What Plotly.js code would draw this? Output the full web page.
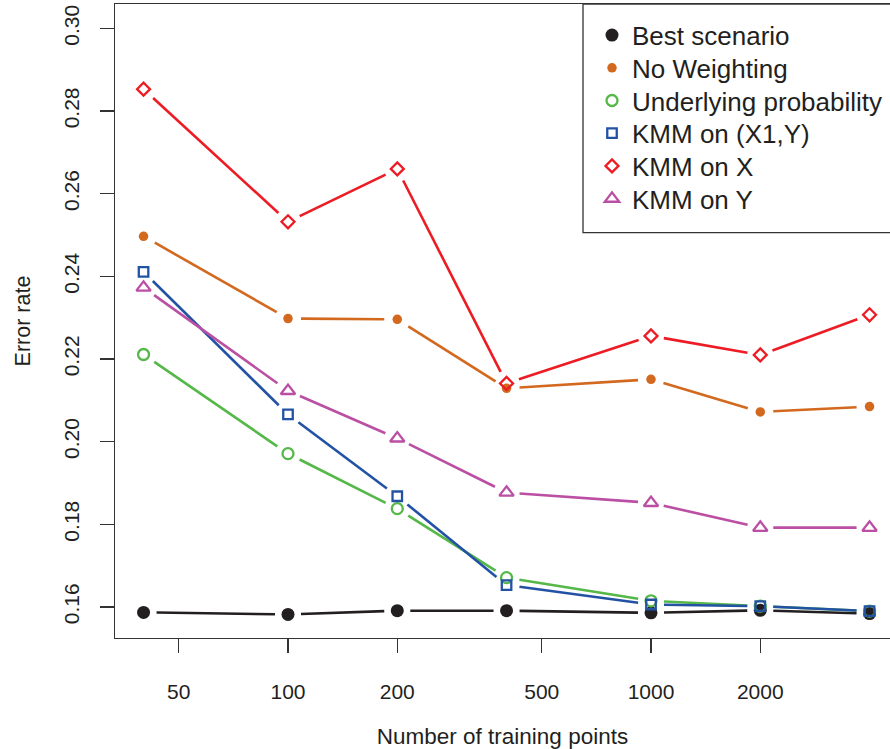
<!DOCTYPE html>
<html>
<head>
<meta charset="utf-8">
<script src="https://cdn.plot.ly/plotly-3.0.1.min.js"></script>
<style>html,body{margin:0;padding:0;background:#fff;}#chart{width:890px;height:749px;}</style>
</head>
<body>
<div id="chart"></div>
<script>
// ---- data ----
var trainingPoints = [40, 100, 200, 400, 1000, 2000, 4000];
var bestScenario   = [0.1587, 0.1582, 0.1591, 0.1591, 0.1586, 0.1592, 0.1584];
var noWeighting    = [0.2497, 0.2298, 0.2296, 0.2129, 0.2151, 0.2072, 0.2085];
var underlyingProb = [0.2211, 0.1971, 0.1838, 0.1671, 0.1615, 0.1602, 0.1590];
var kmmX1Y         = [0.2411, 0.2066, 0.1868, 0.1653, 0.1606, 0.1602, 0.1590];
var kmmX           = [0.2853, 0.2532, 0.2660, 0.2141, 0.2256, 0.2210, 0.2307];
var kmmY           = [0.2373, 0.2123, 0.2008, 0.1877, 0.1852, 0.1792, 0.1792];
var seriesNames    = ["Best scenario", "No Weighting", "Underlying probability", "KMM on (X1,Y)", "KMM on X", "KMM on Y"];
var xTickVals      = [50, 100, 200, 500, 1000, 2000];
var xTickText      = ["50", "100", "200", "500", "1000", "2000"];
var yTickVals      = [0.16, 0.18, 0.20, 0.22, 0.24, 0.26, 0.28, 0.30];
var yTickText      = ["0.16", "0.18", "0.20", "0.22", "0.24", "0.26", "0.28", "0.30"];

// ---- styling ----
var W = 890, H = 749;
var margin = {l: 115, r: 0, t: 4, b: 111};
var xRange = [1.5234, 3.6584];   // log10 units
var yRange = [0.1525, 0.3059];
var plotW = W - margin.l - margin.r, plotH = H - margin.t - margin.b;
var txt = "#231f20";
var font = "Liberation Sans, Arial, Helvetica, sans-serif";

var styles = [
  {color: "#231f20", symbol: "circle",        size: 13,  lw: 0},
  {color: "#d2691e", symbol: "circle",        size: 9.5, lw: 0},
  {color: "#55b848", symbol: "circle-open",   size: 11,  lw: 2.3},
  {color: "#2352a5", symbol: "square-open",   size: 9.5, lw: 2.3},
  {color: "#ed1c24", symbol: "diamond-open",  size: 10,  lw: 2.3},
  {color: "#ba4fa3", symbol: "triangle-up-open", size: 12.5, lw: 2.3}
];
var allSeries = [bestScenario, noWeighting, underlyingProb, kmmX1Y, kmmX, kmmY];

// R type="b": line segments stop short of the points (gap in pixels)
var GAP = 13;
function toPx(x, y) {
  return [(Math.log10(x) - xRange[0]) / (xRange[1] - xRange[0]) * plotW,
          (y - yRange[0]) / (yRange[1] - yRange[0]) * plotH];
}
function fromPx(px, py) {
  return [Math.pow(10, xRange[0] + px / plotW * (xRange[1] - xRange[0])),
          yRange[0] + py / plotH * (yRange[1] - yRange[0])];
}
function gappedSegments(xs, ys) {
  var gx = [], gy = [];
  for (var i = 0; i < xs.length - 1; i++) {
    var a = toPx(xs[i], ys[i]), b = toPx(xs[i + 1], ys[i + 1]);
    var dx = b[0] - a[0], dy = b[1] - a[1], d = Math.sqrt(dx * dx + dy * dy);
    if (d <= 2 * GAP) { gx.push(null); gy.push(null); continue; }
    var ux = dx / d, uy = dy / d;
    var p = fromPx(a[0] + ux * GAP, a[1] + uy * GAP);
    var q = fromPx(b[0] - ux * GAP, b[1] - uy * GAP);
    gx.push(p[0], q[0], null); gy.push(p[1], q[1], null);
  }
  return [gx, gy];
}

// legend: one legend per entry so the row spacing can match the reference
var legendFirstCenter = 36.7, legendStep = 32.7, legendCenterOffset = 25;
var legendLeft = 592;

var traces = [];
var layoutLegends = {};
allSeries.forEach(function (ys, k) {
  var st = styles[k];
  var seg = gappedSegments(trainingPoints, ys);
  var legId = k === 0 ? "legend" : "legend" + (k + 1);
  traces.push({
    x: seg[0], y: seg[1], type: "scatter", mode: "lines",
    line: {color: st.color, width: 2.6}, connectgaps: false,
    showlegend: false, hoverinfo: "skip"
  });
  traces.push({
    x: trainingPoints, y: ys, type: "scatter", mode: "markers",
    name: seriesNames[k], legend: legId,
    marker: {color: st.color, symbol: st.symbol, size: st.size,
             line: {color: st.color, width: st.lw}}
  });
  var topPx = legendFirstCenter + legendStep * k - legendCenterOffset;
  layoutLegends[legId] = {
    x: (legendLeft - margin.l) / plotW, xanchor: "left",
    y: 1 - (topPx - margin.t) / plotH, yanchor: "top",
    bgcolor: "rgba(0,0,0,0)", borderwidth: 0,
    font: {family: font, size: 26, color: txt}
  };
});

var axisCommon = {
  showgrid: false, zeroline: false, showline: true, linecolor: "#333333", linewidth: 1.3,
  ticks: "outside", ticklen: 14, tickwidth: 1.3, tickcolor: "#333333",
  tickfont: {family: font, size: 21, color: txt}
};

var layout = Object.assign({
  width: W, height: H, margin: margin,
  paper_bgcolor: "#ffffff", plot_bgcolor: "#ffffff",
  font: {family: font, color: txt},
  xaxis: Object.assign({}, axisCommon, {
    type: "log", range: xRange, mirror: true,
    tickvals: xTickVals, ticktext: xTickText,
    ticklabelstandoff: 20,
    title: {text: "Number of training points", font: {family: font, size: 22.5, color: txt}, standoff: 26}
  }),
  yaxis: Object.assign({}, axisCommon, {
    range: yRange, mirror: false,
    tickvals: yTickVals, ticktext: yTickText, tickangle: -90,
    ticklabelstandoff: 12,
    title: {text: "Error rate", font: {family: font, size: 21.5, color: txt}, standoff: 23}
  }),
  shapes: [{
    type: "rect", xref: "paper", yref: "paper",
    x0: (583 - margin.l) / plotW, x1: 1.02,
    y0: (H - margin.b - 232.7) / plotH, y1: 1.0,
    line: {color: "#333333", width: 1.3}, fillcolor: "#ffffff", layer: "above"
  }],
  showlegend: true
}, layoutLegends);

Plotly.newPlot("chart", traces, layout, {displayModeBar: false, staticPlot: true});
</script>
</body>
</html>
